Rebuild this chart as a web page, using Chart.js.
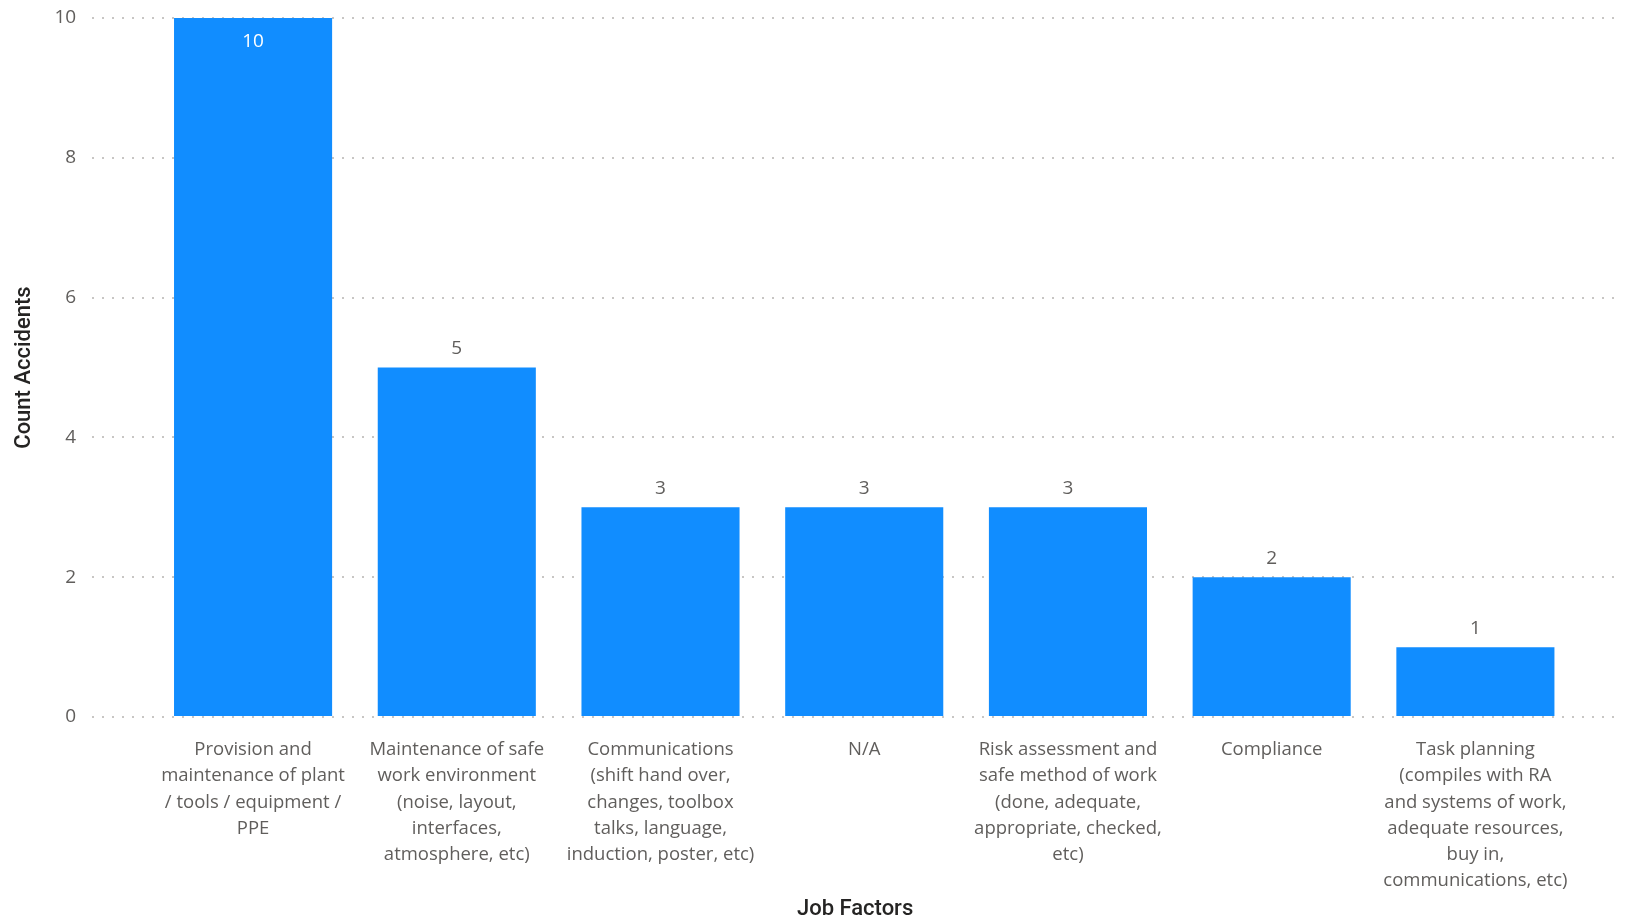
<!DOCTYPE html>
<html>
<head>
<meta charset="utf-8">
<script src="https://cdn.jsdelivr.net/npm/chart.js@4.4.1/dist/chart.umd.min.js"></script>
<style>
html,body{margin:0;padding:0;background:#fff;}
#wrap{position:relative;width:1627px;height:920px;}
</style>
</head>
<body>
<div id="wrap"><canvas id="c" width="1627" height="920"></canvas></div>
<script>
const categories = [
  ["Provision and", "maintenance of plant", "/ tools / equipment /", "PPE"],
  ["Maintenance of safe", "work environment", "(noise, layout,", "interfaces,", "atmosphere, etc)"],
  ["Communications", "(shift hand over,", "changes, toolbox", "talks, language,", "induction, poster, etc)"],
  ["N/A"],
  ["Risk assessment and", "safe method of work", "(done, adequate,", "appropriate, checked,", "etc)"],
  ["Compliance"],
  ["Task planning", "(compiles with RA", "and systems of work,", "adequate resources,", "buy in,", "communications, etc)"]
];
const countAccidents = [10, 5, 3, 3, 3, 2, 1];
const yTicks = [0, 2, 4, 6, 8, 10];

const FONT = "'Open Sans', 'Noto Sans', sans-serif";
const TITLE_FONT = "Roboto, 'DejaVu Sans', sans-serif";
const GREY = "#605E5C";
const DARK = "#252423";

const labelPlugin = {
  id: 'barLabels',
  afterDatasetsDraw(chart) {
    const ctx = chart.ctx;
    const meta = chart.getDatasetMeta(0);
    ctx.save();
    ctx.font = "19px " + FONT;
    ctx.textAlign = 'center';
    ctx.textBaseline = 'middle';
    meta.data.forEach((bar, i) => {
      const v = countAccidents[i];
      const p = bar.getProps(['x', 'y'], true);
      if (p.y - chart.chartArea.top < 40) {
        ctx.fillStyle = '#ffffff';
        ctx.fillText(String(v), p.x, p.y + 24);
      } else {
        ctx.fillStyle = GREY;
        ctx.fillText(String(v), p.x, p.y - 19);
      }
    });
    ctx.restore();
  }
};

new Chart(document.getElementById('c'), {
  type: 'bar',
  data: {
    datasets: [{
      data: countAccidents.map((v, i) => ({x: i, y: v})),
      backgroundColor: '#118DFF',
      borderWidth: 0,
      categoryPercentage: 1,
      barPercentage: 0.776
    }]
  },
  options: {
    responsive: false,
    animation: false,
    devicePixelRatio: 1,
    layout: {padding: {top: 18, right: 9, left: 11, bottom: 0}},
    plugins: {legend: {display: false}, tooltip: {enabled: false}},
    scales: {
      x: {
        type: 'linear',
        offset: false,
        min: -0.79,
        max: 6.7,
        grid: {display: false, offset: false},
        border: {display: false},
        afterBuildTicks(scale) { scale.ticks = categories.map((_, i) => ({value: i})); },
        ticks: {
          autoSkip: false,
          maxRotation: 0,
          minRotation: 0,
          padding: 12,
          color: GREY,
          font: {family: FONT, size: 18.5, lineHeight: 1.41},
          callback: (v) => categories[v]
        },
        title: {
          display: true,
          text: 'Job Factors',
          color: DARK,
          font: {family: TITLE_FONT, size: 22, weight: '500'},
          padding: {top: -9, bottom: -3}
        }
      },
      y: {
        min: 0,
        max: 10,
        afterBuildTicks(scale) { scale.ticks = yTicks.map(v => ({value: v})); },
        grid: {color: '#C8C6C4', lineWidth: 2, drawTicks: true, tickLength: 16, tickColor: 'rgba(0,0,0,0)'},
        border: {display: false, dash: [2, 8]},
        ticks: {
          padding: 0,
          color: GREY,
          font: {family: FONT, size: 19}
        },
        title: {
          display: true,
          text: 'Count Accidents',
          color: DARK,
          font: {family: TITLE_FONT, size: 22, weight: '500'},
          padding: {top: 0, bottom: 17}
        }
      }
    }
  },
  plugins: [labelPlugin]
});
</script>
</body>
</html>
